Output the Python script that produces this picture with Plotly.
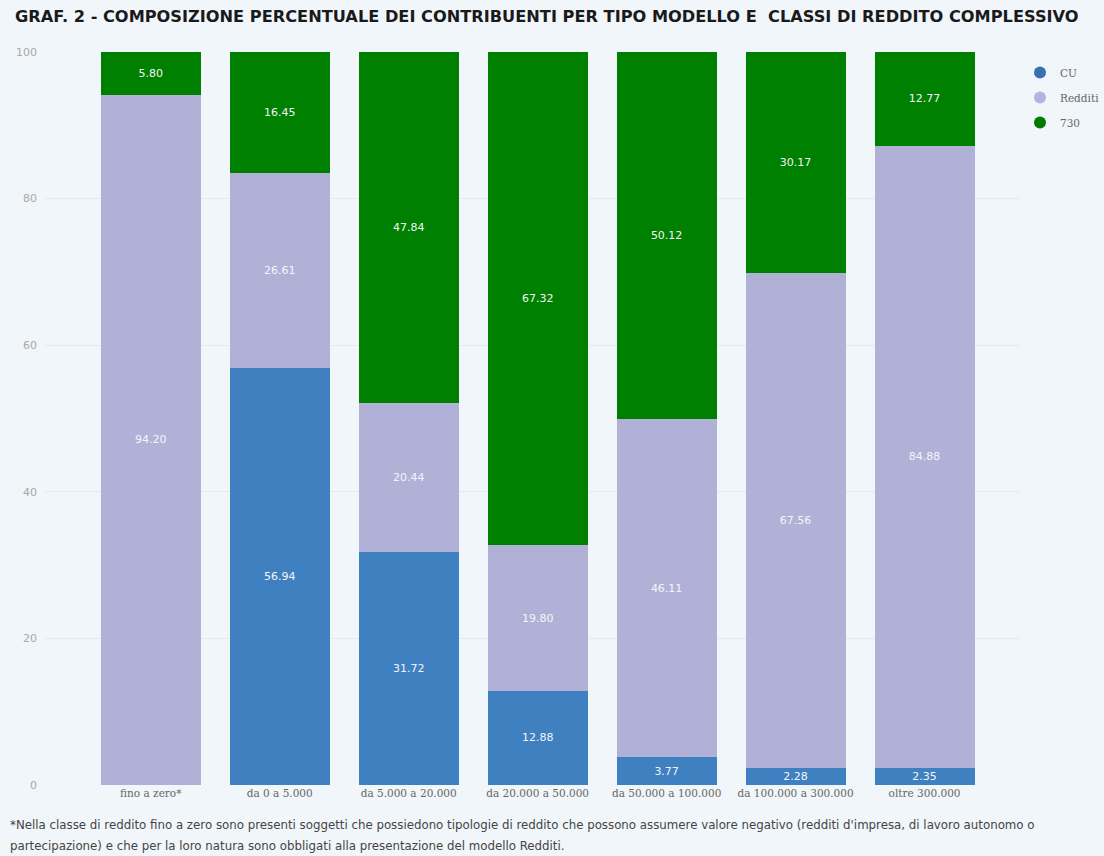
import plotly.graph_objects as go

# Classi di reddito complessivo
classi = ["fino a zero*", "da 0 a 5.000", "da 5.000 a 20.000", "da 20.000 a 50.000",
          "da 50.000 a 100.000", "da 100.000 a 300.000", "oltre 300.000"]

# Composizione percentuale per tipo di modello
cu = [0, 56.94, 31.72, 12.88, 3.77, 2.28, 2.35]
redditi = [94.20, 26.61, 20.44, 19.80, 46.11, 67.56, 84.88]
m730 = [5.80, 16.45, 47.84, 67.32, 50.12, 30.17, 12.77]

y_ticks = [0, 20, 40, 60, 80, 100]

nota = [
    "*Nella classe di reddito fino a zero sono presenti soggetti che possiedono tipologie di reddito "
    "che possono assumere valore negativo (redditi d'impresa, di lavoro autonomo o",
    "partecipazione) e che per la loro natura sono obbligati alla presentazione del modello Redditi.",
]

series = [
    ("CU", cu, "#3f80c1", "#3a6fb3"),
    ("Redditi", redditi, "#b1b1d8", "#b3b3dd"),
    ("730", m730, "#008000", "#007a00"),
]

BG = "#f1f6fa"
L, R, T, B = 45, 84, 52, 71
W, H = 1104, 856
plot_h = H - T - B
plot_w = W - L - R

fig = go.Figure()

for name, vals, col, legcol in series:
    labels = ["" if v == 0 else f"{v:.2f}" for v in vals]
    fig.add_trace(go.Bar(
        x=classi, y=vals, name=name, marker=dict(color=col, line=dict(width=0)),
        text=labels, textposition="inside", insidetextanchor="middle",
        textfont=dict(color="#f4f4f8", size=11, family="DejaVu Sans"),
        constraintext="none", showlegend=False, hoverinfo="skip",
    ))
    # voce di legenda con marcatore circolare
    fig.add_trace(go.Scatter(
        x=[None], y=[None], mode="markers", name=name, legendgroup=name,
        marker=dict(symbol="circle", size=9, color=legcol),
    ))

annotations = []
for i, riga in enumerate(nota):
    y_px = 825 + i * 21
    annotations.append(dict(
        text=riga, xref="paper", yref="paper",
        x=(8 - L) / plot_w, y=(H - B - y_px) / plot_h,
        xanchor="left", yanchor="middle", align="left", showarrow=False,
        font=dict(family="DejaVu Sans", size=11.8, color="#444"),
    ))

fig.update_layout(
    width=W, height=H,
    barmode="stack", bargap=0.225,
    paper_bgcolor=BG, plot_bgcolor=BG,
    margin=dict(l=L, r=R, t=T, b=B, autoexpand=False),
    title=dict(
        text="<b>GRAF. 2 - COMPOSIZIONE PERCENTUALE DEI CONTRIBUENTI PER TIPO MODELLO E  CLASSI DI REDDITO COMPLESSIVO</b>",
        x=15 / W, xanchor="left", y=1 - 16 / H, yanchor="middle",
        font=dict(family="DejaVu Sans", size=16.2, color="#1a1a1a"),
    ),
    xaxis=dict(
        range=[-0.82, 6.74], tickfont=dict(family="DejaVu Serif", size=10.5, color="#666"),
        showgrid=False, showline=False, ticks="", fixedrange=True,
    ),
    yaxis=dict(
        range=[0, 100], tickvals=y_ticks, ticktext=[str(t) for t in y_ticks],
        tickfont=dict(family="DejaVu Sans", size=11, color="#a8a8a8"),
        showgrid=True, gridcolor="#e4eaf0", gridwidth=1, zeroline=False,
        showline=False, ticks="", ticklabelstandoff=7,
    ),
    legend=dict(
        x=1.0, xanchor="left", y=1.0 - 6 / plot_h, yanchor="top",
        traceorder="grouped", tracegroupgap=6,
        font=dict(family="DejaVu Serif", size=10.5, color="#666"),
        bgcolor="rgba(0,0,0,0)", itemsizing="constant",
    ),
    annotations=annotations,
)

fig.write_html("out.html")
